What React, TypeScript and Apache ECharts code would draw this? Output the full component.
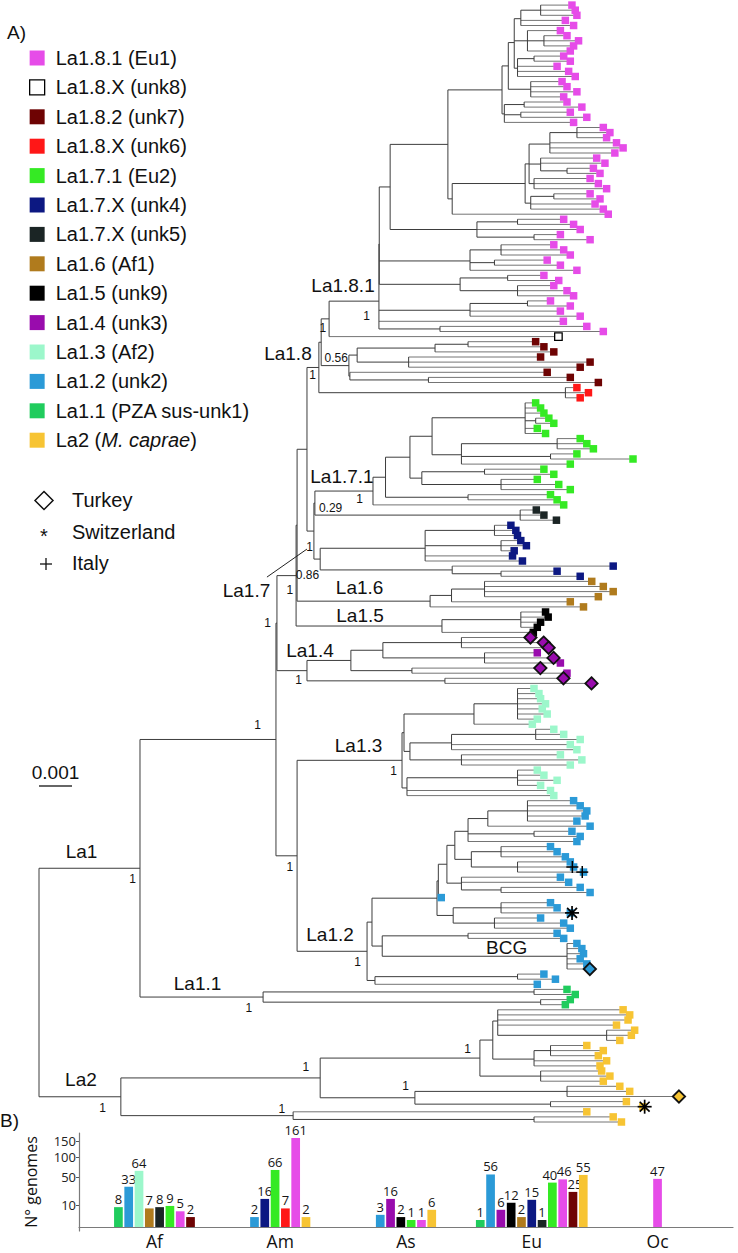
import React, { useEffect, useRef } from 'react';
import * as echarts from 'echarts';

const FONT = '"Liberation Sans", Arial, Helvetica, sans-serif';
const FONT_B = '"Open Sans", "Noto Sans", "DejaVu Sans", sans-serif';

/* ---------------- lineages (legend order) ---------------- */
const LINEAGE_KEYS = ['La1.8.1', 'unk8', 'La1.8.2', 'unk6', 'La1.7.1', 'unk4', 'unk5', 'La1.6', 'La1.5', 'La1.4', 'La1.3', 'La1.2', 'La1.1', 'La2'];
const LINEAGE_NAMES = ['La1.8.1 (Eu1)', 'La1.8.X (unk8)', 'La1.8.2 (unk7)', 'La1.8.X (unk6)', 'La1.7.1 (Eu2)', 'La1.7.X (unk4)', 'La1.7.X (unk5)', 'La1.6 (Af1)', 'La1.5 (unk9)', 'La1.4 (unk3)', 'La1.3 (Af2)', 'La1.2 (unk2)', 'La1.1 (PZA sus-unk1)', 'La2 (M. caprae)'];
const LINEAGE_COLORS = ['#e64ce8', '#ffffff', '#6e0303', '#ff1717', '#35ea24', '#0c1882', '#1b2525', '#b07b1d', '#000000', '#990cad', '#9cf7cb', '#2b9ad7', '#20cc5d', '#f7c433'];
const COUNTRIES = ['Turkey', 'Switzerland', 'Italy'];

/* ---------------- panel B: genomes per region ---------------- */
const REGIONS = ['Af', 'Am', 'As', 'Eu', 'Oc'];
const AF_LINEAGES = ['La1.1', 'La1.2', 'La1.3', 'La1.6', 'unk5', 'La1.7.1', 'La1.8.1', 'La1.8.2'];
const AF_COUNTS = [8, 33, 64, 7, 8, 9, 5, 2];
const AM_LINEAGES = ['La1.2', 'unk4', 'La1.7.1', 'unk6', 'La1.8.1', 'La2'];
const AM_COUNTS = [2, 16, 66, 7, 161, 2];
const AS_LINEAGES = ['La1.2', 'La1.4', 'La1.5', 'La1.7.1', 'La1.8.1', 'La2'];
const AS_COUNTS = [3, 16, 2, 1, 1, 6];
const EU_LINEAGES = ['La1.1', 'La1.2', 'La1.4', 'La1.5', 'La1.6', 'unk4', 'unk5', 'La1.7.1', 'La1.8.1', 'La1.8.2', 'La2'];
const EU_COUNTS = [1, 56, 6, 12, 2, 15, 1, 40, 46, 25, 55];
const OC_LINEAGES = ['La1.8.1'];
const OC_COUNTS = [47];
const Y_TICKS = [10, 50, 100, 150];

/* ---------------- panel A: tree (node depth in 1e-4 subst/site) ----------------
   internal node = [depth | {d, s(support), lab}, ...children]; leaf = depth
   leaf suffix: d = Turkey, s = Switzerland, p = Italy                         */
const PINK_A = [140.3,
  [142.2,
    [144,
      [146, [152, 160.5, 161.5, 162], 158.5, 161],
      [148, 157, [153, 159, 162.5, 161], 160],
      [145, [150, 158, 160], 156, 159.5, 161.5]],
    [149, 157.5, 159, 162, 158]],
  [141, [147, 159, 163.5], [146, 160, 165], 161]];
const PINK_B = [147.3,
  [148.5,
    [154.8, [163, 170, 172, 171], 174, 176, 173.5],
    [152, 168, 170.5, [160, 167, 169]],
    [150, 166, 168.5, 171]],
  [149, [156, 166, 169], 167.5, 170]];
const PINK_B_NODE = [125.2, PINK_B, 171.5];
const PINK_A_NODE = [123.9, PINK_A, PINK_B_NODE];
const PINK_C = [132.7, [145, 158, 161], 163, [150, 157, 166]];
const PINK_UPPER = [106.4, PINK_A_NODE, PINK_C];
const PINK_D1 = [130.6, [140, 155, 158, 160], [138, 153, 157], 162];
const PINK_D2 = [127.6, [142, 152, 156.5], [145, 155, 159, 161]];
const PINK_D3 = [130.6, [148, 154, 160], 157, 163];
const PINK_D5 = [121.5, 165, 170];
const LA181 = [{ d: 103, s: '1', id: 'n181', lab: 'La1.8.1' }, [103.1, PINK_UPPER, PINK_D1, PINK_D2], PINK_D3, 157.9, PINK_D5];
const UNK8 = 156.4;
const LA182 = [{ d: 93.9, s: '0.56', id: 'n182' }, [96.4, [120, [130, 149.5, 152], 155], [112, 151, 166, 163]], [94.2, 153, [118, 160, 168.5]]];
const UNK6 = [159.5, 162, 165.5, 163];
const LA171 = [{ d: 101.2, s: '1', id: 'n171', lab: 'La1.7.1' },
  [105,
    [112.4,
      [119.1, [147.3, 149.5, 151, 152, [150.5, 153.5, 155], 150, 152.5], [128, [157, 163, 165, 167], [155, 162, 179], 160]],
      [116, [135, 152, 155], [140, 150, 156.5, 160]]],
    [130, 154, 156]],
  158];
const UNK5 = [{ d: 145.8, s: '0.29', id: 'nu5' }, 149.7, 152, 155.8];
const UNK4 = [{ d: 85.2, s: '0.86', id: 'nnv' },
  [117, [138, 142, 143.5, 144], [140, 145, 146.7, 143], 142.5, 145.5],
  [125.2, 173, [140, 156, 163]]];
const LA16 = [{ d: 118.5, lab: 'La1.6' }, [125, [135, 166.5, 170, 173, 168.5], 160], 164];
const LA15 = [{ d: 122.1, lab: 'La1.5' }, [146, 152.5, 153.3, 151, 150], 148.8];
const LA14 = [{ d: 81.2, s: '1', id: 'n14', lab: 'La1.4' },
  [94.5, [104.2, [128, '148d', '152d', '153.5d'], [135, 150, '155d', 157]], [113, '151d', 159]],
  [123, '158d', '166.5d']];
const LA13 = [{ d: 110, s: '1', id: 'n13', lab: 'La1.3' },
  [110.6,
    [131.8, [145, 149, 150.5, 151, 152.5, 151.5, 153, 150], 148.5],
    [112.4, [125, [150.5, 155, 158, 163], 160, 162], [128, 157, 163.5, 160]]],
  [111.5, [145, 150, 152, 156, 151], 154, 155]];
const LA12 = [{ d: 99.4, s: '1', id: 'n12', lab: 'La1.2' },
  [100.9,
    [120.6,
      [121,
        [123.6,
          [126,
            [130, [136, [148, 161, 163, 165, 164.5, 162], 166], [150, 160.5, 163], 162],
            [131, [140, 154, 156, 158.5], [145, 160, '161p', '164p']]],
          [128, 157, 159.5, [140, 163, 166]]],
        120.9],
      [125.5, [140, 154, 156, '160s'], [138, 151, 158, 160]]],
    [104, [130, 156, 158], [{ d: 160, lab: 'BCG' }, 162, 163.5, 164, 163, 165, '166d']]],
  [101.8, [145, 152, 155.5], 150]];
const LA11 = [{ d: 67.9, s: '1', id: 'n11', lab: 'La1.1' }, [150, 159, 161.5], [152, 160, 158.5]];
const LA2 = [{ d: 24.8, s: '1', id: 'n2', lab: 'La2' },
  [{ d: 85.2, s: '1', id: 'nu' },
    [{ d: 133.6, s: '1', id: 'nuu' },
      [137.5,
        [139, 176, 178, 177.5, 174, [172, 179.5, 178.5, 175]],
        [150, [155, 165, 170, 168.5], 171, 169]],
      [152, 169.5, 172, 170]],
    [{ d: 113.9, s: '1', id: 'nul' }, [160, 175, 178, '193d'], [155, 177, '182s']]],
  [{ d: 77, s: '1', id: 'nl' }, 165, [150, 173, 175.5]]];

const TREE = [0,
  [{ d: 30.6, s: '1', id: 'n1', lab: 'La1' },
    [{ d: 71.8, s: '1', id: 'na' },
      [{ d: 72.1, s: '1', id: 'nc' },
        [{ d: 77.9, s: '1', id: 'nd' },
          [78.2,
            [81.2,
              [{ d: 84.8, s: '1', id: 'n18', lab: 'La1.8' },
                [85.5,
                  [{ d: 87.9, s: '1', id: 'n81u8' }, { lin: 'La1.8.1', node: LA181 }, { lin: 'unk8', node: UNK8 }],
                  { lin: 'La1.8.2', node: LA182 }],
                { lin: 'unk6', node: UNK6 }],
              [{ d: 83.3, s: '1', id: 'n17', lab: 'La1.7' },
                [83.6, { lin: 'La1.7.1', node: LA171 }, { lin: 'unk5', node: UNK5 }],
                { lin: 'unk4', node: UNK4 }]],
            { lin: 'La1.6', node: LA16 }],
          { lin: 'La1.5', node: LA15 }],
        { lin: 'La1.4', node: LA14 }],
      [{ d: 78.2, s: '1', id: 'n1213' }, { lin: 'La1.3', node: LA13 }, { lin: 'La1.2', node: LA12 }]],
    { lin: 'La1.1', node: LA11 }],
  { lin: 'La2', node: LA2 }];

/* ---------------- styles ---------------- */
const BRANCH_STROKE = '#3d3d3d';
const TIP_STROKE = '#747474';
const SQ = 7.5;
const SCALE_Y = 786;
const SCALE_LEN = 10; // 0.001 subst/site
const BAR_STEP = 0.0819;
const BAR_W = 8.7;
const BAR_LABEL_DX: any = { 'Eu:La1.7.1': -2.5, 'Eu:La1.8.1': 1.5, 'Eu:La1.8.2': 2 };
const SUP_POS: any = {
  n1: { dx: -4, dy: 11 }, na: { dx: -15, dy: -14 }, nc: { dx: -6, dy: 0 }, nd: { dx: -3, dy: 14 }, n14: { dx: -5, dy: 9 },
  n1213: { dx: -4, dy: 11 }, n13: { dx: -5, dy: 11 }, n12: { dx: -6, dy: 11 }, n11: { dx: -11, dy: 11 },
  n2: { dx: -15, dy: 11 }, nu: { dx: -11, dy: -11 }, nl: { dx: -8, dy: -7 }, nuu: { dx: -9, dy: -9 },
  nul: { dx: -6, dy: -12 }, n181: { dx: -9, dy: 15 }, n81u8: { dx: -3, dy: 9 }, n18: { dx: -3, dy: 8 },
  n182: { dx: -1, dy: -8 }, n171: { dx: -10, dy: 8 }, nu5: { start: true, dx: 4, dy: -7, align: 'left' },
  n17: { dx: -1, dy: 16 }, nnv: { dx: -1, dy: 16 },
};
const LAB_POS: any = {
  'La1': [-8, -17], 'La1.1': [-4, -14], 'La1.2': [-2, -17], 'La1.3': [9, -15], 'La1.4': [18, -20],
  'La1.5': [-9, -11], 'La1.6': [-4, -14], 'La1.7.1': [-2, -15], 'La1.8': [-25, -14], 'La1.8.1': [-11, -16],
  'La2': [1, -17], 'BCG': [32, -9], 'La1.7': [-64, 59],
};
const LAB_LINES: any = { 'La1.7': [-43.5, 46, -3.5, 18] };

/* ---------------- layout of the tree from the data ---------------- */
function buildTree(root: any) {
  const lines: any[] = [], tips: any[] = [], marks: any[] = [], texts: any[] = [];
  let leaf = 0;
  const walk = (n: any, pd: number | null, lin: string | null): number => {
    if (n !== null && typeof n === 'object' && !Array.isArray(n)) return walk(n.node, pd, n.lin);
    if (typeof n === 'number' || typeof n === 'string') {
      const s = String(n);
      const m = /[a-z]$/.test(s) ? s.slice(-1) : '';
      const d = parseFloat(s);
      const y = leaf++;
      lines.push({ k: 'tip', x1: pd, x2: d, y });
      if (m === 'd') marks.push({ k: 'dia', x: d, y, lin });
      else tips.push({ k: 'sq', x: d, y, lin });
      if (m === 's') marks.push({ k: 'star', x: d, y });
      if (m === 'p') marks.push({ k: 'plus', x: d, y });
      return y;
    }
    const h = typeof n[0] === 'number' ? { d: n[0] } : n[0];
    const ys = n.slice(1).map((c: any) => walk(c, h.d, lin));
    const y = ys.reduce((a: number, b: number) => a + b, 0) / ys.length;
    lines.push({ k: 'v', x: h.d, y1: Math.min(...ys), y2: Math.max(...ys) });
    if (pd !== null) lines.push({ k: 'h', x1: pd, x2: h.d, y });
    if (h.s) texts.push({ k: 'sup', x: h.d, pd, y, t: h.s, id: h.id });
    if (h.lab) texts.push({ k: 'lab', x: h.d, pd, y, t: h.lab });
    return y;
  };
  walk(root, null, null);
  return [...lines, ...tips, ...marks, ...texts, { k: 'scale', x: 0, y: 0 }];
}

const TREE_ELS = buildTree(TREE);

const BAR_SETS = [
  [AF_LINEAGES, AF_COUNTS], [AM_LINEAGES, AM_COUNTS], [AS_LINEAGES, AS_COUNTS], [EU_LINEAGES, EU_COUNTS], [OC_LINEAGES, OC_COUNTS],
] as any[];
const BARS: any[] = [];
BAR_SETS.forEach(([lins, counts], g) => {
  const n = lins.length;
  lins.forEach((lin: string, k: number) => {
    BARS.push({ x: g + 1 + (k - (n - 1) / 2) * BAR_STEP, v: counts[k], lin, key: REGIONS[g] + ':' + lin });
  });
});

const colorOf = (lin: string) => LINEAGE_COLORS[LINEAGE_KEYS.indexOf(lin)];

function treeRender(params: any, api: any) {
  const e = TREE_ELS[params.dataIndex];
  const c = (x: number, y: number) => api.coord([x, y]);
  const ln = (x1: number, y1: number, x2: number, y2: number, stroke: string, w = 1) =>
    ({ type: 'line', shape: { x1, y1, x2, y2 }, style: { stroke, lineWidth: w } });
  switch (e.k) {
    case 'h':
    case 'tip': {
      const a = c(e.x1, e.y), b = c(e.x2, e.y);
      return ln(a[0], a[1], b[0], b[1], e.k === 'tip' ? TIP_STROKE : BRANCH_STROKE);
    }
    case 'v': {
      const a = c(e.x, e.y1), b = c(e.x, e.y2);
      return ln(a[0], a[1], b[0], b[1], BRANCH_STROKE);
    }
    case 'sq': {
      const p = c(e.x, e.y);
      const white = e.lin === 'unk8';
      return {
        type: 'rect', shape: { x: p[0] - 0.5, y: p[1] - SQ / 2, width: SQ, height: SQ },
        style: { fill: colorOf(e.lin), stroke: white ? '#000' : 'none', lineWidth: white ? 1.3 : 0 },
      };
    }
    case 'dia': {
      const p = c(e.x, e.y); const r = 6.2; const cx = p[0] + 3;
      return {
        type: 'polygon', shape: { points: [[cx, p[1] - r], [cx + r, p[1]], [cx, p[1] + r], [cx - r, p[1]]] },
        style: { fill: colorOf(e.lin), stroke: '#111', lineWidth: 1.8 },
      };
    }
    case 'star': {
      const p = c(e.x, e.y); const cx = p[0] + 5; const r = 7;
      const ch: any[] = [];
      for (let i = 0; i < 4; i++) {
        const a = (i * Math.PI) / 4;
        ch.push(ln(cx - r * Math.cos(a), p[1] - r * Math.sin(a), cx + r * Math.cos(a), p[1] + r * Math.sin(a), '#000', 1.7));
      }
      return { type: 'group', children: ch };
    }
    case 'plus': {
      const p = c(e.x, e.y); const cx = p[0] + 2; const r = 6;
      return { type: 'group', children: [ln(cx - r, p[1], cx + r, p[1], '#000', 1.5), ln(cx, p[1] - r, cx, p[1] + r, '#000', 1.5)] };
    }
    case 'sup': {
      const sp = SUP_POS[e.id] || { dx: -4, dy: 10 };
      const base = sp.start ? c(e.pd, e.y) : c(e.x, e.y);
      return {
        type: 'text', x: base[0] + sp.dx, y: base[1] + sp.dy,
        style: { text: e.t, fontSize: 12, fontFamily: FONT, fill: '#111', align: sp.align || 'right', verticalAlign: 'middle' },
      };
    }
    case 'lab': {
      const a = c(e.pd, e.y), b = c(e.x, e.y);
      const mx = (a[0] + b[0]) / 2, my = b[1];
      const off = LAB_POS[e.t] || [0, -14];
      const ch: any[] = [{
        type: 'text', x: mx + off[0], y: my + off[1],
        style: { text: e.t, fontSize: 19, fontFamily: FONT, fill: '#111', align: 'center', verticalAlign: 'middle' },
      }];
      const l = LAB_LINES[e.t];
      if (l) ch.push(ln(mx + l[0], my + l[1], mx + l[2], my + l[3], '#222', 1));
      return { type: 'group', children: ch };
    }
    case 'scale': {
      const a = c(0, 0), b = c(SCALE_LEN, 0);
      return {
        type: 'group', children: [
          ln(a[0], SCALE_Y, b[0], SCALE_Y, '#333', 1.4),
          { type: 'text', x: (a[0] + b[0]) / 2, y: SCALE_Y - 14, style: { text: '0.001', fontSize: 19, fontFamily: FONT, fill: '#111', align: 'center', verticalAlign: 'middle' } },
        ],
      };
    }
  }
  return null;
}

function barRender(params: any, api: any) {
  const b = BARS[params.dataIndex];
  const top = api.coord([b.x, Math.sqrt(b.v)]);
  const base = api.coord([b.x, 0]);
  const dx = BAR_LABEL_DX[b.key] || 0;
  return {
    type: 'group', children: [
      { type: 'rect', shape: { x: top[0] - BAR_W / 2, y: top[1], width: BAR_W, height: base[1] - top[1] }, style: { fill: colorOf(b.lin) } },
      { type: 'text', x: top[0] + dx, y: top[1] - 1.5, style: { text: String(b.v), fill: '#161616', fontSize: 13, fontFamily: FONT_B, align: 'center', verticalAlign: 'bottom' } },
    ],
  };
}

function buildOption(): any {
  const legendData = LINEAGE_NAMES.map((name, i) => ({
    name, icon: 'rect',
    itemStyle: { color: LINEAGE_COLORS[i], opacity: 1, borderColor: i === 1 ? '#000' : LINEAGE_COLORS[i], borderWidth: i === 1 ? 1.3 : 0 },
  }));
  const dummy = LINEAGE_NAMES.map((name, i) => ({
    type: 'scatter', name, data: [], xAxisIndex: 0, yAxisIndex: 0, itemStyle: { color: LINEAGE_COLORS[i], opacity: 1 },
  }));
  const countryY = [500, 532, 563];
  return {
    animation: false,
    backgroundColor: '#ffffff',
    grid: [
      { left: 39, top: 0, width: 699, height: 1127.1, containLabel: false, outerBoundsMode: 'none' },
      { left: 79, top: 1133, width: 654, height: 98, containLabel: false, outerBoundsMode: 'none' },
    ],
    xAxis: [
      { gridIndex: 0, type: 'value', min: 0, max: 211.8, show: false },
      {
        gridIndex: 1, type: 'value', min: 0.4, max: 5.6,
        axisLine: { show: true, lineStyle: { color: '#7a7a7a', width: 1.2 } },
        axisTick: { show: false }, splitLine: { show: false },
        axisLabel: { customValues: [1, 2, 3, 4, 5], formatter: (v: number) => REGIONS[Math.round(v) - 1], fontSize: 17.5, color: '#111', fontFamily: FONT_B, margin: 1 },
      },
    ],
    yAxis: [
      { gridIndex: 0, type: 'value', min: -1, max: 220, inverse: true, show: false },
      {
        gridIndex: 1, type: 'value', min: -0.57, max: 13.39,
        splitLine: { show: false },
        axisLine: { show: true, lineStyle: { color: '#7a7a7a', width: 1.2 } },
        axisTick: { show: true, customValues: Y_TICKS.map(Math.sqrt), length: 3, lineStyle: { color: '#555' } },
        axisLabel: { customValues: Y_TICKS.map(Math.sqrt), formatter: (v: number) => String(Math.round(v * v)), fontSize: 13, color: '#222', fontFamily: FONT_B, margin: 3 },
        name: 'N° genomes', nameLocation: 'middle', nameGap: 40,
        nameTextStyle: { fontSize: 16, color: '#111', fontFamily: FONT_B },
      },
    ],
    legend: {
      orient: 'vertical', left: 29, top: 48, padding: 0, itemWidth: 15, itemHeight: 15, itemGap: 9.4,
      selectedMode: false, data: legendData,
      formatter: (name: string) => (name.indexOf('M. caprae') >= 0 ? 'La2 ({it|M. caprae})' : name),
      textStyle: {
        fontSize: 20, fontFamily: FONT, color: '#111', padding: [0, 0, 0, 6],
        rich: { it: { fontSize: 20, fontFamily: FONT, fontStyle: 'italic', color: '#111' } },
      },
    },
    graphic: [
      { type: 'text', x: 7, y: 32, style: { text: 'A)', fontSize: 19, fontFamily: FONT, fill: '#111', verticalAlign: 'middle' } },
      { type: 'text', x: 0, y: 1120, style: { text: 'B)', fontSize: 19, fontFamily: FONT, fill: '#111', verticalAlign: 'middle' } },
      { type: 'polygon', shape: { points: [[44, 491.5], [53, 500.5], [44, 509.5], [35, 500.5]] }, style: { fill: '#fff', stroke: '#111', lineWidth: 1.5 } },
      { type: 'text', x: 44, y: 536, style: { text: '*', fontSize: 20, fontFamily: FONT, fill: '#111', align: 'center', verticalAlign: 'middle' } },
      { type: 'line', shape: { x1: 40, y1: 564, x2: 52, y2: 564 }, style: { stroke: '#111', lineWidth: 1.3 } },
      { type: 'line', shape: { x1: 46, y1: 558, x2: 46, y2: 570 }, style: { stroke: '#111', lineWidth: 1.3 } },
      ...COUNTRIES.map((t, i) => ({ type: 'text', x: 72, y: countryY[i], style: { text: t, fontSize: 20, fontFamily: FONT, fill: '#111', verticalAlign: 'middle' } })),
    ],
    series: [
      {
        type: 'custom', name: 'tree', xAxisIndex: 0, yAxisIndex: 0, clip: false, silent: true,
        data: TREE_ELS.map((e: any) => [e.x ?? e.x1 ?? 0, e.y ?? e.y1 ?? 0]),
        renderItem: treeRender,
      },
      {
        type: 'custom', name: 'genomes', xAxisIndex: 1, yAxisIndex: 1, clip: false, silent: true,
        data: BARS.map((b) => [b.x, Math.sqrt(b.v)]),
        renderItem: barRender,
      },
      ...dummy,
    ],
  };
}

export default function App() {
  const ref = useRef<HTMLDivElement>(null);
  useEffect(() => {
    if (!ref.current) return;
    const chart = echarts.init(ref.current, null, { renderer: 'svg', width: 738, height: 1253 });
    chart.setOption(buildOption());
    return () => chart.dispose();
  }, []);
  return <div ref={ref} style={{ position: 'absolute', left: 0, top: 0, width: 738, height: 1253, background: '#fff' }} />;
}
